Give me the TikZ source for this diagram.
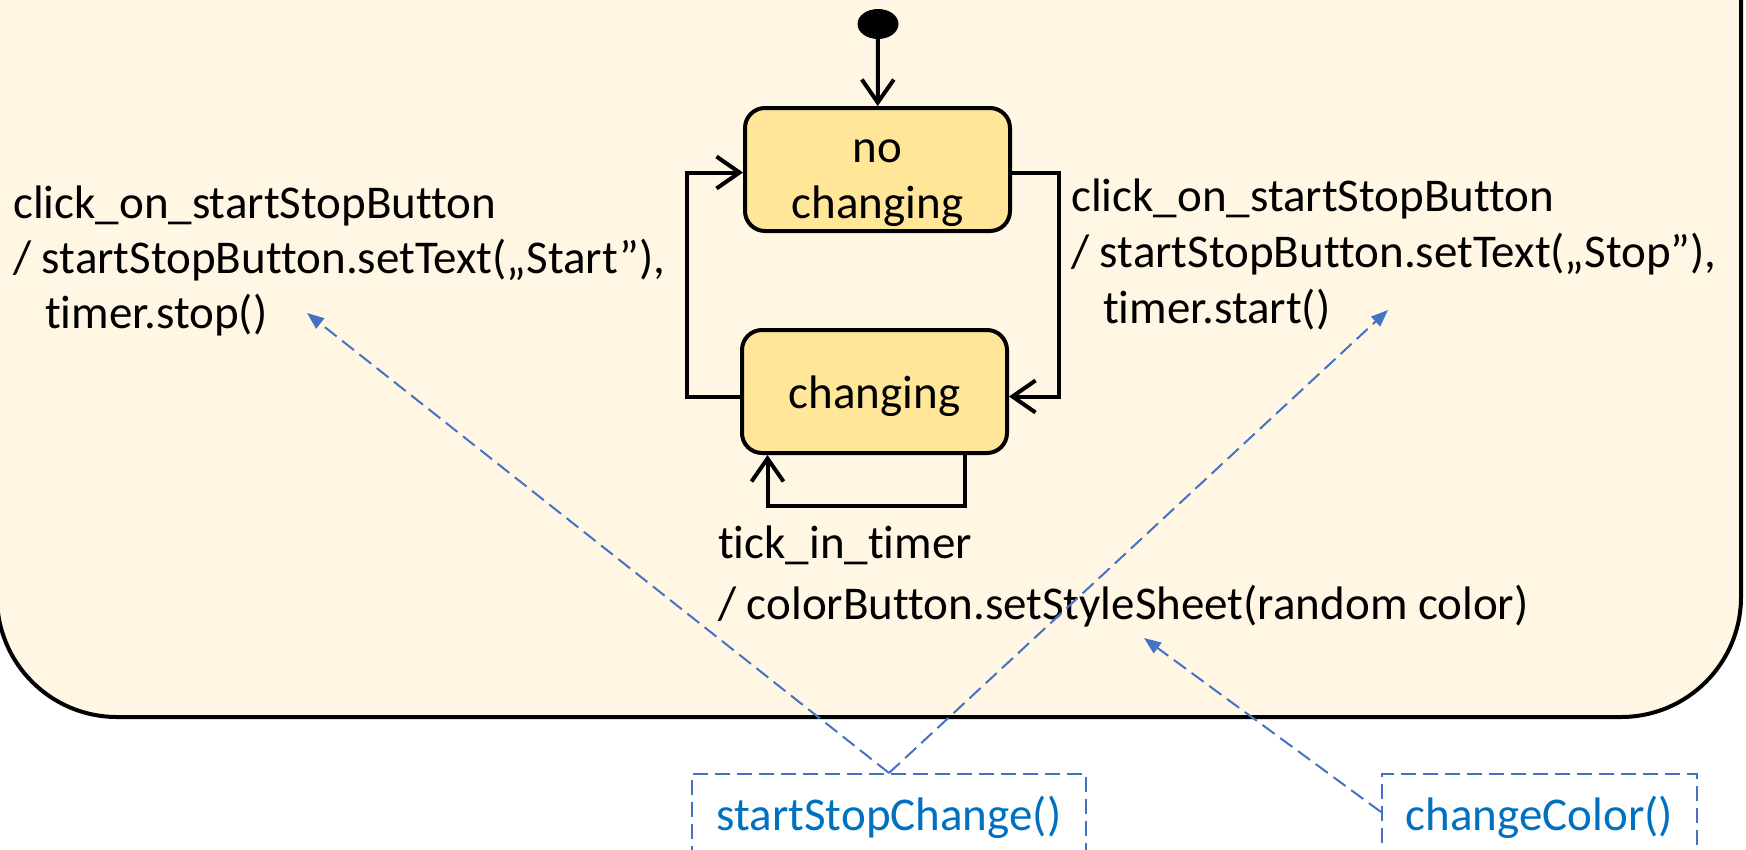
\documentclass[tikz,border=0pt]{standalone}
\usepackage{fontspec}
\setmainfont{Carlito}[Ligatures={NoCommon,NoRequired,NoContextual},Contextuals=NoAlternate]
\usetikzlibrary{arrows.meta,shapes.geometric,calc}
\definecolor{cream}{HTML}{FFF7E4}
\definecolor{stfill}{HTML}{FFE699}
\definecolor{noteblue}{HTML}{4472C4}
\definecolor{textblue}{HTML}{0070C0}
\tikzset{
  statebox/.style={draw=black, line width=4pt, fill=stfill, rounded corners=20pt,
    minimum width=265pt, minimum height=123pt, align=center, inner sep=0pt,
    font=\fontsize{47}{56}\selectfont},
  trans/.style={draw=black, line width=4pt, -{Straight Barb[length=23pt,width=32pt]}},
  lbl/.style={anchor=north west, inner sep=0pt, align=left},
  notebox/.style={draw=noteblue, line width=2pt, dash pattern=on 15pt off 7pt,
    text=textblue, minimum height=86pt, inner sep=0pt, font=\fontsize{47}{56}\selectfont},
  link/.style={draw=noteblue, line width=2pt, dash pattern=on 15pt off 7pt,
    -{Triangle[length=17pt,width=13pt]}}
}
\begin{document}
\begin{tikzpicture}[x=1pt,y=-1pt]
\useasboundingbox (0,0) rectangle (1746,849);
\fill[white] (0,0) rectangle (1746,849);
\clip (0,0) rectangle (1746,849);
% container
\draw[line width=4pt, fill=cream, rounded corners=120pt] (-3,-120) rectangle (1741,717);
% states
\node[fill=black, ellipse, minimum width=41pt, minimum height=30pt, inner sep=0pt] (init) at (878,24) {};
\node[statebox] (nc) at (877.5,169.5) {\rule{0pt}{51pt}no\\changing};
\node[statebox] (cg) at (874.5,391.5) {\rule{0pt}{43pt}changing};
% transitions
\draw[trans] (init) -- (nc);
\draw[trans] ([yshift=-5pt]cg.west) -- ++(-53,0) |- ([yshift=-3pt]nc.west);
\draw[trans] ([yshift=-3pt]nc.east) -- ++(47,0) |- ([yshift=-5pt]cg.east);
\draw[trans] ([xshift=90pt]cg.south) -- ++(0,51) -| ([xshift=-107pt]cg.south);
% labels
\node[lbl, font=\fontsize{47}{55}\selectfont] (lleft) at (13,186)
  {click\_on\_startStopButton\\/ startStopButton.setText(„Start”),\\\hspace*{32pt}timer.stop()};
\node[lbl, font=\fontsize{47}{56}\selectfont] (lright) at (1071,179)
  {click\_on\_startStopButton\\/ startStopButton.setText(„Stop”),\\\hspace*{32pt}timer.start()};
\node[lbl, font=\fontsize{47}{61}\selectfont] (lbottom) at (718,526)
  {tick\_in\_timer\\/ colorButton.setStyleSheet(random color)};
% notes
\node[notebox, minimum width=394pt] (ssc) at (889,817) {startStopChange()};
\node[notebox, minimum width=315pt] (cc) at (1539.5,817) {changeColor()};
\coordinate (t1) at (307,313);
\coordinate (t2) at (1388,310);
\coordinate (t3) at (1144,638);
\draw[link] (ssc.north) -- (t1);
\draw[link] (ssc.north) -- (t2);
\draw[link] ([yshift=5pt]cc.west) -- (t3);
\end{tikzpicture}
\end{document}
